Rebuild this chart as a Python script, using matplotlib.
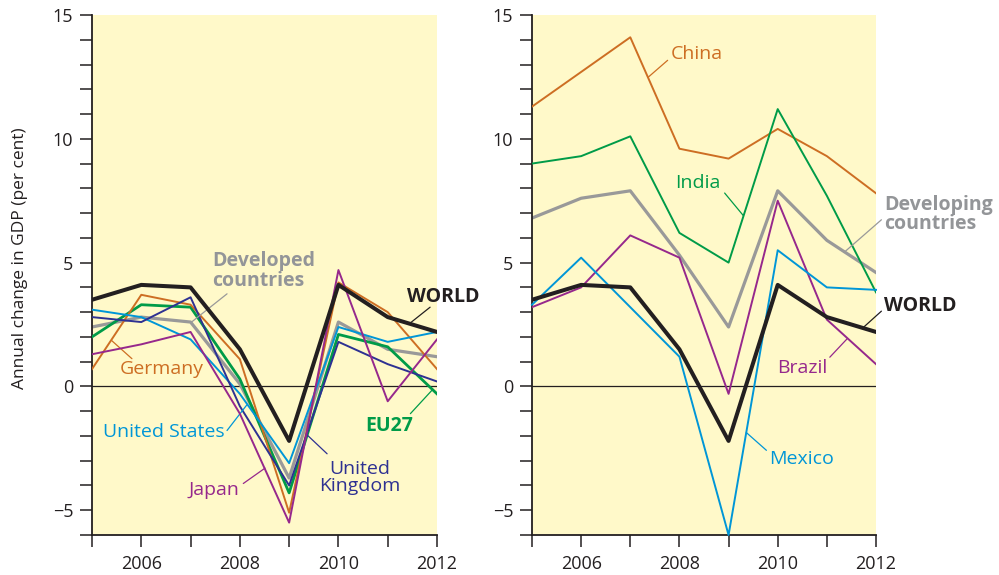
import matplotlib
matplotlib.use("Agg")
import matplotlib.pyplot as plt
from matplotlib.ticker import MultipleLocator

plt.rcParams['font.family'] = ['Open Sans', 'DejaVu Sans']

years = [2005, 2006, 2007, 2008, 2009, 2010, 2011, 2012]

# Left panel: developed economies
world = [3.5, 4.1, 4.0, 1.5, -2.2, 4.1, 2.8, 2.2]
germany = [0.7, 3.7, 3.3, 1.1, -5.1, 4.2, 3.0, 0.7]
eu27 = [2.0, 3.3, 3.2, 0.3, -4.3, 2.1, 1.6, -0.3]
united_kingdom = [2.8, 2.6, 3.6, -0.8, -4.0, 1.8, 0.9, 0.2]
united_states = [3.1, 2.8, 1.9, -0.3, -3.1, 2.4, 1.8, 2.2]
japan = [1.3, 1.7, 2.2, -1.1, -5.5, 4.7, -0.6, 1.9]
developed = [2.4, 2.8, 2.6, 0.1, -3.7, 2.6, 1.5, 1.2]

# Right panel: developing economies
china = [11.3, 12.7, 14.1, 9.6, 9.2, 10.4, 9.3, 7.8]
india = [9.0, 9.3, 10.1, 6.2, 5.0, 11.2, 7.7, 3.8]
developing = [6.8, 7.6, 7.9, 5.3, 2.4, 7.9, 5.9, 4.6]
brazil = [3.2, 4.0, 6.1, 5.2, -0.3, 7.5, 2.7, 0.9]
mexico = [3.3, 5.2, 3.2, 1.2, -6.0, 5.5, 4.0, 3.9]

y_ticks = [-5, 0, 5, 10, 15]
x_tick_labels = ['2006', '2008', '2010', '2012']

BG = '#FFF9C9'
C_BLACK = '#231F20'
C_ORANGE = '#CD6E23'
C_GREEN = '#009B48'
C_LBLUE = '#0096D7'
C_DBLUE = '#2E3192'
C_PURPLE = '#96288C'
C_GRAY = '#999999'
C_GRAYTXT = '#939598'

fig = plt.figure(figsize=(9.99, 5.75), dpi=100)
ax1 = fig.add_axes([92/999, 40/575, 345/999, 520/575])
ax2 = fig.add_axes([532/999, 40/575, 344/999, 520/575])

for ax in (ax1, ax2):
    ax.set_facecolor(BG)
    ax.set_xlim(2005, 2012)
    ax.set_ylim(-6, 15)
    for s in ('top', 'right'):
        ax.spines[s].set_visible(False)
    for s in ('left', 'bottom'):
        ax.spines[s].set_linewidth(1.3)
        ax.spines[s].set_color(C_BLACK)
    ax.yaxis.set_major_locator(MultipleLocator(5))
    ax.yaxis.set_minor_locator(MultipleLocator(1))
    ax.set_yticks(y_ticks)
    ax.set_yticklabels([('\u2212' + str(-v)) if v < 0 else str(v) for v in y_ticks])
    ax.set_xticks(years)
    ax.set_xticklabels([str(y) if str(y) in x_tick_labels else '' for y in years])
    ax.tick_params(axis='both', which='both', direction='out', length=8.5, width=1.1,
                   color=C_BLACK, labelsize=13, labelcolor=C_BLACK)
    ax.tick_params(axis='y', pad=5)
    ax.tick_params(axis='x', pad=6)
    ax.axhline(0, color=C_BLACK, lw=0.9, zorder=1)


def lead(ax, p0, p1, color):
    ax.annotate('', xy=p1, xytext=p0, annotation_clip=False,
                arrowprops=dict(arrowstyle='-', color=color, lw=0.9, shrinkA=0, shrinkB=0))


# Left panel lines
ax1.plot(years, developed, color=C_GRAY, lw=2.3, zorder=2)
ax1.plot(years, eu27, color=C_GREEN, lw=2.0, zorder=3)
ax1.plot(years, germany, color=C_ORANGE, lw=1.4, zorder=3)
ax1.plot(years, united_states, color=C_LBLUE, lw=1.4, zorder=3)
ax1.plot(years, united_kingdom, color=C_DBLUE, lw=1.4, zorder=3)
ax1.plot(years, japan, color=C_PURPLE, lw=1.4, zorder=4)
ax1.plot(years, world, color=C_BLACK, lw=2.9, zorder=5)

fs = 14
ax1.text(2007.44, 5.45, 'Developed\ncountries', color=C_GRAYTXT, fontsize=fs, fontweight='bold',
         ha='left', va='top', linespacing=0.95)
lead(ax1, (2007.74, 3.74), (2007.02, 2.6), C_GRAY)
ax1.text(2011.40, 3.63, 'WORLD', color=C_BLACK, fontsize=fs, fontweight='bold',
         ha='left', va='center', clip_on=False)
lead(ax1, (2011.86, 3.2), (2011.45, 2.55), C_BLACK)
ax1.text(2006.415, 0.69, 'Germany', color=C_ORANGE, fontsize=fs, ha='center', va='center')
lead(ax1, (2005.81, 1.12), (2005.40, 1.85), C_ORANGE)
ax1.text(2006.46, -1.86, 'United States', color=C_LBLUE, fontsize=fs, ha='center', va='center')
lead(ax1, (2007.74, -1.78), (2008.14, -0.75), C_LBLUE)
ax1.text(2007.48, -4.2, 'Japan', color=C_PURPLE, fontsize=fs, ha='center', va='center')
lead(ax1, (2008.07, -3.92), (2008.51, -3.3), C_PURPLE)
ax1.text(2010.44, -3.68, 'United\nKingdom', color=C_DBLUE, fontsize=fs, ha='center', va='center',
         linespacing=0.95)
lead(ax1, (2009.77, -2.72), (2009.36, -1.95), C_DBLUE)
ax1.text(2011.03, -1.58, 'EU27', color=C_GREEN, fontsize=fs, fontweight='bold',
         ha='center', va='center')
lead(ax1, (2011.46, -1.1), (2011.90, -0.15), C_GREEN)

# Right panel lines
ax2.plot(years, developing, color=C_GRAY, lw=2.3, zorder=2)
ax2.plot(years, china, color=C_ORANGE, lw=1.4, zorder=3)
ax2.plot(years, india, color=C_GREEN, lw=1.4, zorder=3)
ax2.plot(years, brazil, color=C_PURPLE, lw=1.4, zorder=3)
ax2.plot(years, mexico, color=C_LBLUE, lw=1.4, zorder=3, clip_on=False)
ax2.plot(years, world, color=C_BLACK, lw=2.9, zorder=5)

ax2.text(2008.35, 13.42, 'China', color=C_ORANGE, fontsize=fs, ha='center', va='center')
lead(ax2, (2007.76, 13.17), (2007.36, 12.48), C_ORANGE)
ax2.text(2008.37, 8.2, 'India', color=C_GREEN, fontsize=fs, ha='center', va='center')
lead(ax2, (2008.92, 7.81), (2009.30, 6.9), C_GREEN)
ax2.text(2012.17, 7.75, 'Developing\ncountries', color=C_GRAYTXT, fontsize=fs, fontweight='bold',
         ha='left', va='top', linespacing=0.95, clip_on=False)
lead(ax2, (2012.11, 6.73), (2011.36, 5.43), C_GRAY)
ax2.text(2012.17, 3.25, 'WORLD', color=C_BLACK, fontsize=fs, fontweight='bold',
         ha='left', va='center', clip_on=False)
lead(ax2, (2012.11, 3.04), (2011.73, 2.36), C_BLACK)
ax2.text(2010.49, 0.73, 'Brazil', color=C_PURPLE, fontsize=fs, ha='center', va='center')
lead(ax2, (2011.06, 1.18), (2011.42, 1.94), C_PURPLE)
ax2.text(2010.48, -2.95, 'Mexico', color=C_LBLUE, fontsize=fs, ha='center', va='center')
lead(ax2, (2009.77, -2.58), (2009.36, -1.86), C_LBLUE)

fig.text(20/999, 1 - 258/575, 'Annual change in GDP (per cent)', rotation=90,
         ha='center', va='center', fontsize=12.5, color=C_BLACK)

fig.savefig('out.png', dpi=100)
